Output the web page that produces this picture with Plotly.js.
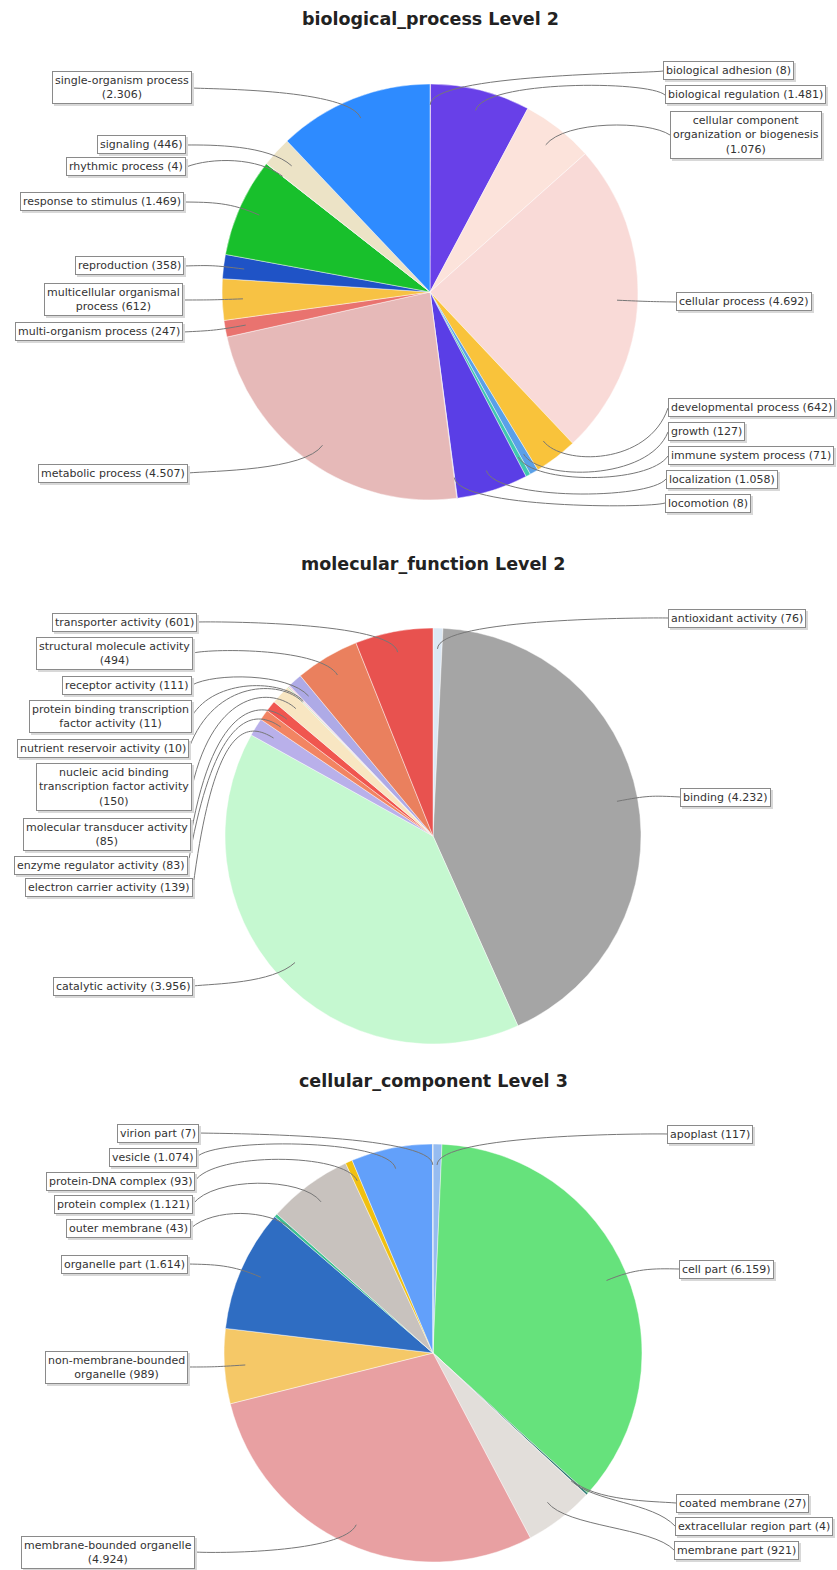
<!DOCTYPE html>
<html><head><meta charset="utf-8">
<script src="https://cdn.plot.ly/plotly-3.0.1.min.js"></script>
<style>html,body{margin:0;padding:0;background:#fff}</style>
</head><body><div id="chart" style="width:837px;height:1570px"></div>
<script>
// ---------- DATA ----------
const bpTitle = "biological_process Level 2";
const bpCategories = ["biological adhesion","biological regulation","cellular component organization or biogenesis","cellular process","developmental process","growth","immune system process","localization","locomotion","metabolic process","multi-organism process","multicellular organismal process","reproduction","response to stimulus","rhythmic process","signaling","single-organism process"];
const bpValues = [8,1481,1076,4692,642,127,71,1058,8,4507,247,612,358,1469,4,446,2306];
const bpLabelText = ["biological adhesion ({v})","biological regulation ({v})","cellular component<br>organization or biogenesis<br>({v})","cellular process ({v})","developmental process ({v})","growth ({v})","immune system process ({v})","localization ({v})","locomotion ({v})","metabolic process ({v})","multi-organism process ({v})","multicellular organismal<br>process ({v})","reproduction ({v})","response to stimulus ({v})","rhythmic process ({v})","signaling ({v})","single-organism process<br>({v})"];
const bpColors = ["#ff6060","#6840e8","#fce3db","#f9dad7","#f9c33b","#5aa0e8","#40c8b0","#5a3ee6","#8080ff","#e6b9b8","#e9736f","#f7c244","#1f53c6","#18c02c","#c8c8c8","#ece3c6","#2e8bff"];

const mfTitle = "molecular_function Level 2";
const mfCategories = ["antioxidant activity","binding","catalytic activity","electron carrier activity","enzyme regulator activity","molecular transducer activity","nucleic acid binding transcription factor activity","nutrient reservoir activity","protein binding transcription factor activity","receptor activity","structural molecule activity","transporter activity"];
const mfValues = [76,4232,3956,139,83,85,150,10,11,111,494,601];
const mfLabelText = ["antioxidant activity ({v})","binding ({v})","catalytic activity ({v})","electron carrier activity ({v})","enzyme regulator activity ({v})","molecular transducer activity<br>({v})","nucleic acid binding<br>transcription factor activity<br>({v})","nutrient reservoir activity ({v})","protein binding transcription<br>factor activity ({v})","receptor activity ({v})","structural molecule activity<br>({v})","transporter activity ({v})"];
const mfColors = ["#dce8f4","#a5a5a5","#c5f8d0","#b9b0ea","#f28462","#f0564f","#f8e6c2","#cfe8c0","#f4d0e0","#aeaae6","#ea805e","#e8524f"];

const ccTitle = "cellular_component Level 3";
const ccCategories = ["apoplast","cell part","coated membrane","extracellular region part","membrane part","membrane-bounded organelle","non-membrane-bounded organelle","organelle part","outer membrane","protein complex","protein-DNA complex","vesicle","virion part"];
const ccValues = [117,6159,27,4,921,4924,989,1614,43,1121,93,1074,7];
const ccLabelText = ["apoplast ({v})","cell part ({v})","coated membrane ({v})","extracellular region part ({v})","membrane part ({v})","membrane-bounded organelle<br>({v})","non-membrane-bounded<br>organelle ({v})","organelle part ({v})","outer membrane ({v})","protein complex ({v})","protein-DNA complex ({v})","vesicle ({v})","virion part ({v})"];
const ccColors = ["#96bcf0","#66e27c","#2a7a70","#404040","#e2deda","#e8a0a2","#f5c867","#2f6dc2","#3cc090","#c8c2be","#f0c010","#62a0fa","#c0c0c0"];

// ---------- LAYOUT (pixel geometry) ----------
const W = 837, H = 1570;
const pies = [
  {title: bpTitle, cats: bpCategories, vals: bpValues, txt: bpLabelText, cols: bpColors,
   cx: 430, cy: 292, r: 208, titleY: 19,
   labelX: [663,665,670,676,668,668,668,666,665,188,183,183,184,184,186,186,192],
   labelY: [71,95,135,302,408,432,456,479,503,473,332,300,266,202,167,145,88]},
  {title: mfTitle, cats: mfCategories, vals: mfValues, txt: mfLabelText, cols: mfColors,
   cx: 433, cy: 836, r: 208, titleY: 564,
   labelX: [668,680,193,193,188,191,192,189,192,192,193,197],
   labelY: [618,797,986,887,865,834,787,748,716,685,653,622]},
  {title: ccTitle, cats: ccCategories, vals: ccValues, txt: ccLabelText, cols: ccColors,
   cx: 433, cy: 1353, r: 209, titleY: 1081,
   labelX: [667,679,676,675,674,195,188,188,191,193,195,197,199],
   labelY: [1134,1269,1503,1526,1550,1552,1367,1264,1228,1204,1181,1157,1133]}
];

function fmt(v){ return String(v).replace(/\B(?=(\d{3})+(?!\d))/g, "."); }
const px = x => x / W;
const py = y => 1 - y / H;

const traces = [], annotations = [], shapes = [];
const labelFont = {family: "DejaVu Sans, Verdana, sans-serif", size: 11, color: "#333"};

pies.forEach(p => {
  traces.push({
    type: "pie", labels: p.cats, values: p.vals, sort: false, direction: "clockwise", rotation: 0,
    textinfo: "none", hoverinfo: "label+value", showlegend: false,
    marker: {colors: p.cols, line: {color: "rgba(255,255,255,0.55)", width: 0.8}},
    domain: {x: [px(p.cx - p.r), px(p.cx + p.r)], y: [py(p.cy + p.r), py(p.cy - p.r)]}
  });
  annotations.push({
    text: "<b>" + p.title + "</b>", xref: "paper", yref: "paper", x: px(p.cx), y: py(p.titleY),
    xanchor: "center", yanchor: "middle", showarrow: false,
    font: {family: "DejaVu Sans, sans-serif", size: 17.5, color: "#222"}
  });
  const total = p.vals.reduce((a, b) => a + b, 0);
  let cum = 0;
  p.vals.forEach((v, i) => {
    const mid = (cum + v / 2) / total * 2 * Math.PI;
    cum += v;
    const s = Math.sin(mid), c = Math.cos(mid);
    const left = mid > Math.PI;
    const linkX = p.cx + s * p.r * 0.9, linkY = p.cy - c * p.r * 0.9;
    const elbowX = p.cx + s * p.r * 1.05, elbowY = p.cy - c * p.r * 1.05;
    const anchorX = left ? p.cx - p.r * 1.05 : p.cx + p.r * 1.05;
    const tx = p.labelX[i], ty = p.labelY[i];
    shapes.push({
      type: "path", xref: "paper", yref: "paper", layer: "above",
      path: `M ${px(tx)},${py(ty)} C ${px(anchorX)},${py(elbowY)} ${px(elbowX)},${py(elbowY)} ${px(linkX)},${py(linkY)}`,
      line: {color: "#777777", width: 1}
    });
    const text = p.txt[i].replace("{v}", fmt(v));
    // soft shadow box
    annotations.push({
      text: text, xref: "paper", yref: "paper", x: px(tx + 2), y: py(ty + 2),
      xanchor: left ? "right" : "left", yanchor: "middle", showarrow: false, align: "center",
      font: Object.assign({}, labelFont, {color: "rgba(0,0,0,0)"}),
      bgcolor: "#d8d8d8", bordercolor: "#d8d8d8", borderwidth: 1, borderpad: 2
    });
    annotations.push({
      text: text, xref: "paper", yref: "paper", x: px(tx), y: py(ty),
      xanchor: left ? "right" : "left", yanchor: "middle", showarrow: false, align: "center",
      font: labelFont, bgcolor: "#ffffff", bordercolor: "#8a8a8a", borderwidth: 1, borderpad: 2
    });
  });
});

Plotly.newPlot("chart", traces, {
  width: W, height: H, margin: {l: 0, r: 0, t: 0, b: 0},
  paper_bgcolor: "#ffffff", plot_bgcolor: "#ffffff",
  annotations: annotations, shapes: shapes
}, {displayModeBar: false, staticPlot: true});
</script>
</body></html>
